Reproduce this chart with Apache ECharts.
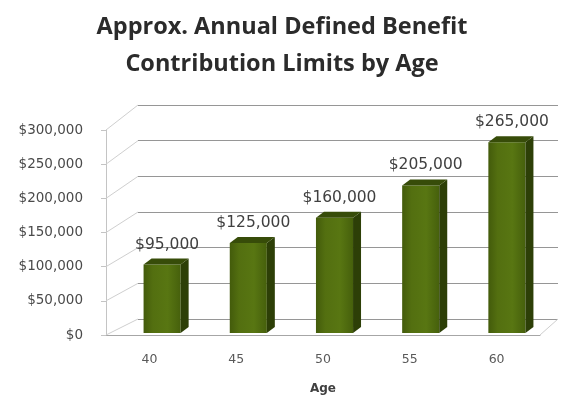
<!DOCTYPE html>
<html>
<head>
<meta charset="utf-8">
<script src="https://cdn.jsdelivr.net/npm/echarts@6/dist/echarts.min.js"></script>
<style>
  html, body { margin: 0; padding: 0; background: #ffffff; }
  #chart { width: 564px; height: 400px; }
</style>
</head>
<body>
<div id="chart"></div>
<script>
// Contribution limits by age
const ages = ['40', '45', '50', '55', '60'];
const limits = [95000, 125000, 160000, 205000, 265000];
const yTicks = [0, 50000, 100000, 150000, 200000, 250000, 300000];
const yMax = 300000;
const yStep = 50000;

const money = v => '$' + v.toLocaleString('en-US');

// Three stacked planes of the 3D box: back wall, front edge, bar plane
const BACK = { left: 138, right: 6, top: 105, height: 214 };
const FRONT = { left: 106, right: 24, top: 130, height: 210 };
const BARS = { left: 119, right: 14, top: 117, height: 216 };
const DEPTH_X = 8, DEPTH_Y = 6;

const labelFont = 'DejaVu Sans';

const chart = echarts.init(document.getElementById('chart'), null, { renderer: 'canvas' });

function renderColumn(params, api) {
  const v = api.value(1);
  const base = api.coord([api.value(0), 0]);
  const top = api.coord([api.value(0), v]);
  const w = api.size([1, 0])[0] * 0.43;
  const x0 = base[0] - w / 2, x1 = base[0] + w / 2;
  const yt = top[1], yb = base[1];
  return {
    type: 'group',
    children: [
      {
        type: 'rect',
        shape: { x: x0, y: yt, width: w, height: yb - yt },
        style: {
          fill: new echarts.graphic.LinearGradient(0, 0, 1, 0, [
            { offset: 0, color: '#435b0b' },
            { offset: 0.25, color: '#536f10' },
            { offset: 0.65, color: '#587612' },
            { offset: 1, color: '#46600c' }
          ]),
          shadowColor: 'rgba(225,235,150,0.9)',
          shadowBlur: 4
        }
      },
      {
        type: 'polygon',
        shape: { points: [[x1, yt], [x1 + DEPTH_X, yt - DEPTH_Y], [x1 + DEPTH_X, yb - DEPTH_Y], [x1, yb]] },
        style: { fill: '#2d3f07' }
      },
      {
        type: 'polygon',
        shape: { points: [[x0, yt], [x0 + DEPTH_X, yt - DEPTH_Y], [x1 + DEPTH_X, yt - DEPTH_Y], [x1, yt]] },
        style: { fill: '#374c09' }
      },
      {
        type: 'text',
        x: base[0] + 5,
        y: yt - 20,
        style: {
          text: money(v),
          textAlign: 'center',
          textVerticalAlign: 'middle',
          fontFamily: labelFont,
          fontSize: 15.5,
          fill: '#404040'
        }
      }
    ]
  };
}

const option = {
  animation: false,
  backgroundColor: '#ffffff',
  title: {
    text: 'Approx. Annual Defined Benefit\nContribution Limits by Age',
    left: 'center',
    top: 4,
    textStyle: {
      fontFamily: 'Open Sans',
      fontWeight: 'bold',
      fontSize: 23.5,
      lineHeight: 37,
      color: '#2b2b2b'
    }
  },
  grid: [
    Object.assign({ containLabel: false }, BACK),
    Object.assign({ containLabel: false }, FRONT),
    Object.assign({ containLabel: false }, BARS)
  ],
  xAxis: [
    { gridIndex: 0, type: 'category', data: ages, show: false },
    {
      gridIndex: 1, type: 'category', data: ages,
      axisLine: { lineStyle: { color: '#a6a6a6', width: 1 } },
      axisTick: { show: false },
      axisLabel: { margin: 18, fontFamily: labelFont, fontSize: 12.5, color: '#595959' },
      name: 'Age',
      nameLocation: 'middle',
      nameGap: 48,
      nameTextStyle: { fontFamily: labelFont, fontSize: 12, fontWeight: 'bold', color: '#404040' }
    },
    { gridIndex: 2, type: 'category', data: ages, show: false }
  ],
  yAxis: [
    {
      gridIndex: 0, type: 'value', min: 0, max: yMax, interval: yStep,
      axisLine: { show: false }, axisTick: { show: false }, axisLabel: { show: false },
      splitLine: { show: true, lineStyle: { color: '#969696', width: 1 } }
    },
    {
      gridIndex: 1, type: 'value', min: 0, max: yMax, interval: yStep,
      axisLine: { show: true, lineStyle: { color: '#c4c4c4' } },
      axisTick: { show: true, length: 5, lineStyle: { color: '#c4c4c4' } },
      axisLabel: { margin: 23, fontFamily: labelFont, fontSize: 13.5, color: '#4a4a4a', formatter: money },
      splitLine: { show: false }
    },
    { gridIndex: 2, type: 'value', min: 0, max: yMax, show: false, splitLine: { show: false } }
  ],
  series: [
    {
      type: 'custom',
      xAxisIndex: 2,
      yAxisIndex: 2,
      renderItem: renderColumn,
      encode: { x: 0, y: 1 },
      data: ages.map((a, i) => [i, limits[i]]),
      z: 5
    }
  ]
};

chart.setOption(option);

// Side wall and floor edges joining the front axis to the back wall
const lines = [];
const edge = (x1, y1, x2, y2, color) => lines.push({
  type: 'line', silent: true, z: 1,
  shape: { x1, y1, x2, y2 },
  style: { stroke: color, lineWidth: 1 }
});
yTicks.forEach(v => {
  const yf = chart.convertToPixel({ yAxisIndex: 1 }, v);
  const yb = chart.convertToPixel({ yAxisIndex: 0 }, v);
  edge(FRONT.left, yf, BACK.left, yb, '#cfcfcf');
});
const yf0 = chart.convertToPixel({ yAxisIndex: 1 }, 0);
const yb0 = chart.convertToPixel({ yAxisIndex: 0 }, 0);
edge(564 - FRONT.right, yf0, 564 - BACK.right, yb0, '#cfcfcf');
chart.setOption({ graphic: lines });
</script>
</body>
</html>
